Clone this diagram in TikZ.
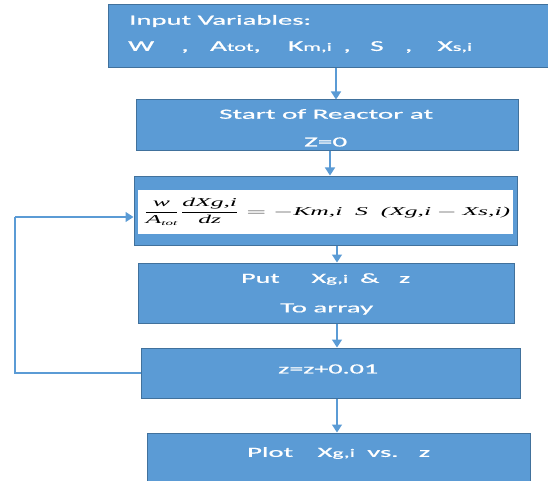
\documentclass[tikz,border=0pt]{standalone}
\usepackage{graphicx}
\usepackage{amsmath}
\usepackage{fontspec}
\usetikzlibrary{arrows.meta}
\newfontfamily\boxf[FakeBold=0.6]{Carlito}
\newfontfamily\eqf{Liberation Serif}
\definecolor{boxblue}{HTML}{5B9BD5}
\definecolor{boxedge}{HTML}{41719C}
\newcommand{\lowsub}[1]{{\fontsize{11.5}{11.5}\selectfont #1}}
\newcommand{\ei}[1]{\hbox{\eqf\itshape #1}}
% stretch a line of text to a given width, keeping its height
\newcommand{\fitw}[2]{\resizebox{#1}{\height}{#2}}
\begin{document}
\begin{tikzpicture}[x=1pt,y=-1pt,
  stepbox/.style={draw=boxedge,fill=boxblue,line width=1pt,inner sep=0pt},
  txt/.style={text=white,font=\boxf\fontsize{14}{14}\selectfont,inner sep=0pt,anchor=west},
  arr/.style={draw=boxblue,line width=1.5pt,-{Triangle[width=10pt,length=8pt]}},
  flow/.style={draw=boxblue,line width=1.2pt}]
\useasboundingbox (0,0) rectangle (548,481);

% boxes
\node[stepbox,minimum width=442,minimum height=63] (b1) at (329,36.5) {};
\node[stepbox,minimum width=382,minimum height=51] (b2) at (327,125.5) {};
\node[stepbox,minimum width=383,minimum height=69] (b3) at (325.5,210.5) {};
\node[fill=white,inner sep=0pt,minimum width=375,minimum height=44] (b3in) at (325.5,212) {};
\node[stepbox,minimum width=376,minimum height=60] (b4) at (326,293) {};
\node[stepbox,minimum width=379,minimum height=50] (b5) at (330.5,373) {};
\node[stepbox,minimum width=383,minimum height=52] (b6) at (338.5,459) {};

% texts
\node[txt] (t1a) at (129,21) {\fitw{182pt}{Input Variables:}};
\node[txt,font=\boxf\fontsize{15}{15}\selectfont] (t1b) at (128,47)
  {\fitw{344pt}{W\hspace{14pt},\hspace{11pt}A\lowsub{tot},\hspace{14pt}K\lowsub{m,i}\hspace{6pt},\hspace{10pt}S\hspace{11pt},\hspace{13pt}X\lowsub{s,i}}};
\node[txt] (t2a) at (219,114) {\fitw{214pt}{Start of Reactor at}};
\node[txt] (t2b) at (304,142) {\fitw{43pt}{Z=0}};
\node[txt] (t4a) at (241,279) {\fitw{169pt}{Put\hspace{16pt}X\lowsub{g,i}\hspace{6pt}\&\hspace{10pt}z}};
\node[txt] (t4b) at (280,309) {\fitw{93pt}{To array}};
\node[txt] (t5) at (278,369) {\fitw{100pt}{z=z+0.01}};
\node[txt] (t6) at (247,453) {\fitw{183pt}{Plot\hspace{12pt}X\lowsub{g,i}\hspace{6pt}vs.\hspace{10pt}z}};

% governing equation
\node[inner sep=0pt,anchor=west] (eq) at (143,212) {\fitw{367pt}{\fontsize{12}{12}\selectfont
  $\dfrac{\ei{w}}{\ei{A\raisebox{-2pt}{\fontsize{7}{7}\selectfont tot}}}\dfrac{\ei{dXg,i}}{\ei{dz}}=-\ei{Km,i\ \ S\ \ (Xg,i} - \ei{Xs,i)}$}};

% connectors
\coordinate (x1) at (336,0);
\coordinate (x2) at (330,0);
\coordinate (x3) at (337,0);
\draw[arr] (b1.south -| x1) -- (b2.north -| x1);
\draw[arr] (b2.south -| x2) -- (b3.north -| x2);
\draw[arr] (b3.south -| x3) -- (b4.north -| x3);
\draw[arr] (b4.south -| x3) -- (b5.north -| x3);
\draw[arr] (b5.south -| x3) -- (b6.north -| x3);

% feedback loop
\coordinate (lb) at (15,373);
\coordinate (lt) at (15,217);
\draw[flow] (b5.west) -- (lb) -- (lt);
\draw[arr,line width=1.2pt] (lt) -- (b3.west |- lt);
\end{tikzpicture}
\end{document}
